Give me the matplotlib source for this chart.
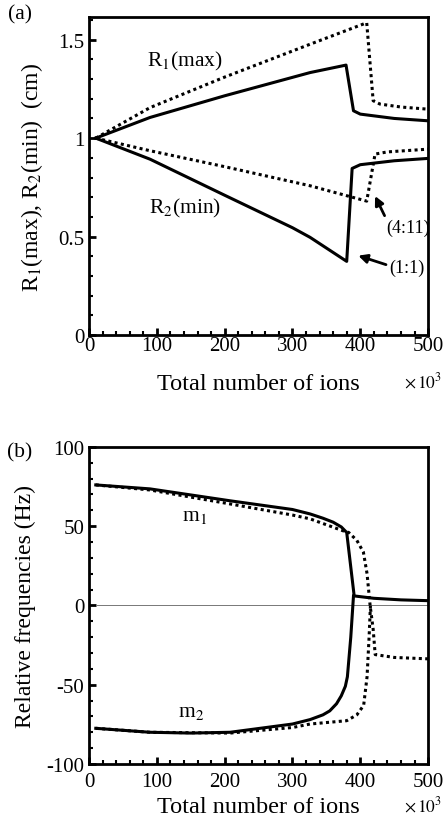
import matplotlib
matplotlib.use("Agg")
import matplotlib.pyplot as plt
from matplotlib.ticker import MultipleLocator, FuncFormatter

plt.rcParams["font.family"] = ["Liberation Serif", "DejaVu Serif"]
plt.rcParams["mathtext.fontset"] = "stix"
plt.rcParams["axes.unicode_minus"] = False

# (a) orbit radii vs total number of ions, 1:1 (solid) and 4:11 (dotted)
ions_r1_11 = [10, 90, 200, 326, 379, 390, 400, 450, 500]
r1_11 = [1.0, 1.105, 1.215, 1.333, 1.371, 1.139, 1.122, 1.10, 1.088]
ions_r1_411 = [10, 90, 200, 326, 409.5, 419, 429, 460, 500]
r1_411 = [1.0, 1.155, 1.31, 1.477, 1.586, 1.19, 1.173, 1.158, 1.147]
ions_r2_11 = [10, 90, 200, 300, 326, 380, 388, 400, 450, 500]
r2_11 = [1.0, 0.893, 0.71, 0.545, 0.496, 0.374, 0.846, 0.865, 0.885, 0.897]
ions_r2_411 = [10, 90, 200, 326, 409.5, 421.8, 440, 500]
r2_411 = [1.0, 0.936, 0.855, 0.758, 0.68, 0.919, 0.93, 0.944]

# (b) relative frequencies of m1 and m2
ions_m1_11 = [10, 90, 208, 300, 326, 345, 360, 372, 380, 391, 420, 460, 500]
m1_11 = [76, 73.5, 66, 60.5, 57.7, 55, 52.5, 49.5, 46, 6, 4.5, 3.5, 3]
ions_m1_411 = [10, 90, 208, 300, 326, 375, 383, 395, 404.6, 410, 414.5, 419, 422, 450, 500]
m1_411 = [76, 72.8, 64, 57, 54.6, 47, 46, 41, 33.6, 20, 0, -15, -31, -32.8, -33.7]
ions_m2_11 = [10, 90, 150, 208, 300, 326, 345, 355, 365, 372, 378, 381, 386, 390]
m2_11 = [-77.5, -80, -80.5, -80, -74.8, -72, -69, -66.5, -62, -57, -51, -45, -20, 6]
ions_m2_411 = [10, 90, 208, 300, 326, 380, 395, 405, 410, 413, 415]
m2_411 = [-77.5, -80, -80.5, -77, -74.8, -72.7, -69, -63, -45, -20, 0]

xticks = [0, 100, 200, 300, 400, 500]

fig = plt.figure(figsize=(4.45, 8.28), dpi=100)
axa = fig.add_axes([0.2, 0.5942, 0.762, 0.384])
axb = fig.add_axes([0.2, 0.0761, 0.762, 0.383])

lw = 2.2
dot = (0, (1, 1.1))

axa.plot(ions_r1_11, r1_11, color="black", lw=lw)
axa.plot(ions_r2_11, r2_11, color="black", lw=lw)
axa.plot(ions_r1_411, r1_411, color="black", lw=lw, linestyle=dot, dash_capstyle="butt")
axa.plot(ions_r2_411, r2_411, color="black", lw=lw, linestyle=dot, dash_capstyle="butt")

axb.axhline(0, xmin=0.02, xmax=1.0, color="#777777", lw=0.7)
axb.plot(ions_m1_11, m1_11, color="black", lw=lw)
axb.plot(ions_m2_11, m2_11, color="black", lw=lw)
axb.plot(ions_m1_411, m1_411, color="black", lw=lw, linestyle=dot, dash_capstyle="butt")
axb.plot(ions_m2_411, m2_411, color="black", lw=lw, linestyle=dot, dash_capstyle="butt")

axa.text(141.6, 1.392, "R$_1$(max)", fontsize=15.5, ha="center", va="center")
axa.text(141.6, 0.648, "R$_2$(min)", fontsize=15.5, ha="center", va="center")
arrow = dict(arrowstyle="-|>", color="black", lw=2, mutation_scale=13, shrinkA=0, shrinkB=0)
axa.annotate("(4:11)", xy=(421.8, 0.706), xytext=(470, 0.548), fontsize=13,
             ha="center", va="center", arrowprops=dict(arrow, relpos=(0.0, 1.0)))
axa.annotate("(1:1)", xy=(397, 0.403), xytext=(468, 0.344), fontsize=13,
             ha="center", va="center", arrowprops=dict(arrow, relpos=(0.0, 0.6)))

axb.text(155, 57, "m$_1$", fontsize=15.5, ha="center", va="center")
axb.text(150, -67, "m$_2$", fontsize=15.5, ha="center", va="center")

for ax in (axa, axb):
    ax.set_xlim(0, 500)
    ax.set_xticks(xticks)
    ax.xaxis.set_minor_locator(MultipleLocator(20))
    for s in ax.spines.values():
        s.set_linewidth(2)
    ax.tick_params(which="both", direction="in", top=False, right=False, labelsize=15)
    ax.tick_params(which="major", length=5, width=2)
    ax.tick_params(which="minor", length=3, width=1.5)
    ax.set_xlabel("Total number of ions", fontsize=17.5)

axa.text(0.985, -0.145, r"$\times\,10^3$", transform=axa.transAxes,
         fontsize=12.5, ha="center", va="center")
axb.text(0.985, -0.128, r"$\times\,10^3$", transform=axb.transAxes,
         fontsize=12.5, ha="center", va="center")

axa.set_ylim(0, 1.615)
axa.set_yticks([0, 0.5, 1, 1.5])
axa.yaxis.set_minor_locator(MultipleLocator(0.1))
axa.yaxis.set_major_formatter(FuncFormatter(lambda v, p: "%g" % v))
axa.tick_params(axis="x", pad=1)
axa.set_ylabel("R$_1$(max), R$_2$(min)  (cm)", fontsize=17)
axa.yaxis.set_label_coords(-0.13, 0.5)
axa.xaxis.set_label_coords(0.5, -0.12)

axb.set_ylim(-100, 100)
axb.set_yticks([-100, -50, 0, 50, 100])
axb.yaxis.set_minor_locator(MultipleLocator(10))
axb.tick_params(axis="x", pad=6)
axb.set_ylabel("Relative frequencies (Hz)", fontsize=17)
axb.yaxis.set_label_coords(-0.156, 0.5)
axb.xaxis.set_label_coords(0.5, -0.1)

fig.text(0.045, 0.982, "(a)", fontsize=15.5, ha="center", va="center")
fig.text(0.045, 0.453, "(b)", fontsize=15.5, ha="center", va="center")

fig.savefig("out.png", dpi=100)
